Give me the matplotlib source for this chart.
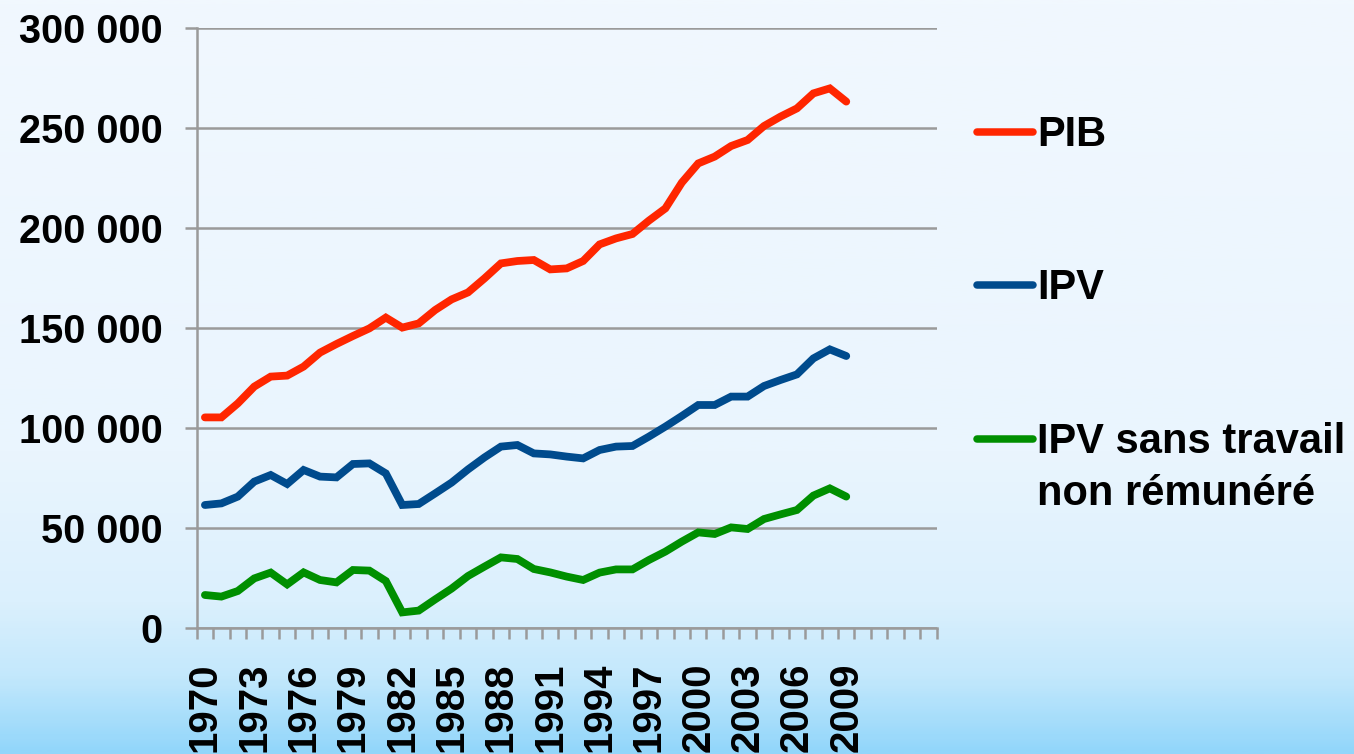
import matplotlib
matplotlib.use("Agg")
import matplotlib.pyplot as plt
import matplotlib.ticker as mtick
from matplotlib.colors import LinearSegmentedColormap
from matplotlib.lines import Line2D
import numpy as np

plt.rcParams["font.family"] = ["Liberation Sans", "DejaVu Sans"]
plt.rcParams["font.weight"] = "bold"

# Category axis: 1970..2014, data only up to 2009
categories = list(range(1970, 2015))
years = list(range(1970, 2010))

pib = [105300, 105300, 112300, 120700, 125700, 126200, 130700, 137700, 142000, 146000,
       149800, 155200, 150200, 152300, 159000, 164300, 167800, 174800, 182300, 183500,
       184000, 179300, 179800, 183500, 191800, 194800, 197000, 203700, 209800, 222700,
       232300, 235700, 241000, 244000, 251000, 255700, 259800, 267300, 269800, 263200]

ipv = [61500, 62300, 65700, 73200, 76500, 72000, 79000, 75700, 75300, 82000,
       82300, 77300, 61500, 62000, 67300, 72700, 79300, 85300, 90700, 91500,
       87300, 86800, 85700, 84800, 89000, 90700, 91000, 95700, 100700, 106000,
       111500, 111500, 115700, 115700, 121000, 124000, 126800, 134800, 139300, 136000]

ipv_sans = [16500, 15700, 18500, 24800, 27700, 21800, 27800, 24000, 22800, 29000,
            28700, 23500, 7800, 8700, 14300, 19700, 26000, 30700, 35300, 34500,
            29500, 27800, 25700, 24000, 27700, 29300, 29300, 34000, 38200, 43200,
            47800, 47000, 50300, 49500, 54500, 56800, 59000, 66200, 69800, 65700]

series_labels = ["PIB", "IPV", "IPV sans travail\nnon rémunéré"]
series_colors = ["#ff2600", "#004b8d", "#008f00"]
y_ticks = [0, 50000, 100000, 150000, 200000, 250000, 300000]
year_labels = [str(y) for y in range(1970, 2010, 3)]

W, H = 1354, 754
fig = plt.figure(figsize=(W / 100, H / 100), dpi=100)

# slide background gradient
bg = fig.add_axes([0, 0, 1, 1], zorder=-10)
cmap = LinearSegmentedColormap.from_list(
    "slide", [(0.0, "#f1f8fe"), (0.6, "#eaf5fe"), (0.8, "#dbf0fd"),
              (0.9, "#c3e8fc"), (1.0, "#92d6fa")])
bg.imshow(np.linspace(0, 1, 300).reshape(-1, 1), aspect="auto", cmap=cmap,
          extent=[0, 1, 0, 1])
bg.axis("off")

ax = fig.add_axes([196.7 / W, 1 - 628 / H, 740 / W, 600 / H])
ax.set_facecolor("none")

x = np.arange(len(years))
for vals, color in zip([pib, ipv, ipv_sans], series_colors):
    ax.plot(x, vals, color=color, lw=5.6, solid_joinstyle="miter",
            solid_capstyle="round", zorder=3)

grid_c = "#9a9a9a"
ax.set_xlim(-0.5, len(categories) - 0.5)
ax.set_ylim(0, 300000)
ax.set_yticks(y_ticks)
ax.yaxis.set_major_formatter(mtick.FuncFormatter(lambda v, p: f"{int(v):,}".replace(",", " ")))
ax.grid(axis="y", color=grid_c, lw=1.8)
ax.set_axisbelow(True)

ax.set_xticks(np.arange(0, len(years), 3))
ax.set_xticklabels(year_labels, rotation=90, va="top")
ax.set_xticks(np.arange(-0.5, len(categories), 1), minor=True)
ax.tick_params(axis="x", which="major", length=0, pad=25, labelsize=29)
ax.tick_params(axis="x", which="minor", length=8, width=1.8, color=grid_c)
ax.tick_params(axis="y", length=8.5, width=1.8, color=grid_c, pad=16, labelsize=28.5)

for side in ["top", "right"]:
    ax.spines[side].set_visible(False)
for side in ["left", "bottom"]:
    ax.spines[side].set_color(grid_c)
    ax.spines[side].set_linewidth(1.8)

# legend drawn by hand to match the slide layout
legend_y = [132, 285, 439]
for label, color, yy in zip(series_labels, series_colors, legend_y):
    fig.add_artist(Line2D([977 / W, 1033 / W], [1 - yy / H, 1 - yy / H],
                          color=color, lw=5.4, solid_capstyle="round"))
    fig.text(1037 / W, 1 - (yy - 17) / H, label, fontsize=30, fontweight="bold",
             va="top", ha="left", linespacing=1.4)

fig.savefig("out.png", dpi=100)
